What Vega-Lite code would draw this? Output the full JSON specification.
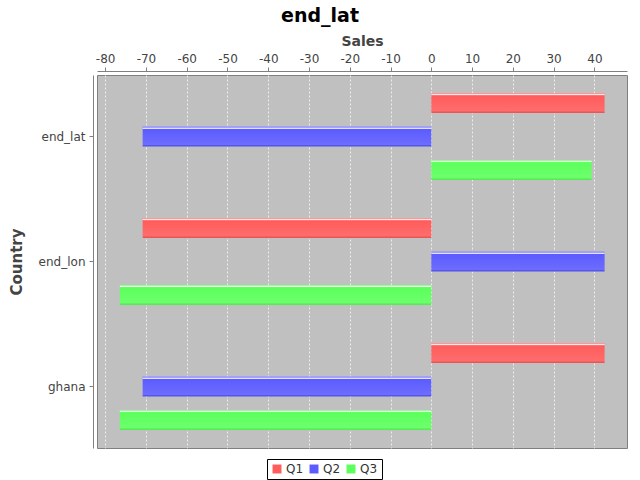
{
  "$schema": "https://vega.github.io/schema/vega-lite/v6.json",
  "autosize": {"type": "none"},
  "padding": {"left": 97, "top": 75, "right": 13, "bottom": 32},
  "width": 530,
  "height": 373,
  "title": {"text": "end_lat", "anchor": "middle", "dx": -42, "fontSize": 19, "font": "DejaVu Sans", "fontWeight": "bold", "color": "#000000", "offset": 8},
  "config": {
    "view": {"fill": "#c0c0c0", "stroke": "#808080", "strokeWidth": 1},
    "font": "DejaVu Sans"
  },
  "data": {"values": [
    {"country": "end_lat", "series": "Q1", "value": 42.5},
    {"country": "end_lat", "series": "Q2", "value": -70.8},
    {"country": "end_lat", "series": "Q3", "value": 39.3},
    {"country": "end_lon", "series": "Q1", "value": -70.8},
    {"country": "end_lon", "series": "Q2", "value": 42.5},
    {"country": "end_lon", "series": "Q3", "value": -76.4},
    {"country": "ghana", "series": "Q1", "value": 42.5},
    {"country": "ghana", "series": "Q2", "value": -70.8},
    {"country": "ghana", "series": "Q3", "value": -76.4}
  ]},
  "encoding": {
    "y": {"field": "country", "type": "nominal", "sort": null,
      "scale": {"paddingInner": 0.304, "paddingOuter": 0.144},
      "axis": {"title": "Country", "titleFontSize": 15, "titleFontWeight": "bold", "titleColor": "#444444", "titlePadding": 14,
        "labelFontSize": 12, "labelColor": "#444444", "labelPadding": 4, "tickColor": "#808080", "tickSize": 4, "domainColor": "#808080", "offset": 4, "grid": false}},
    "yOffset": {"field": "series", "type": "nominal", "scale": {"paddingInner": 0.4, "paddingOuter": 0}},
    "x": {"field": "value", "type": "quantitative",
      "scale": {"domain": [-82, 48], "nice": false, "zero": false},
      "axis": {"orient": "top", "title": "Sales", "titleFontSize": 14, "titleFontWeight": "bold", "titleColor": "#444444", "titlePadding": 4,
        "values": [-80,-70,-60,-50,-40,-30,-20,-10,0,10,20,30,40],
        "labelExpr": "replace(datum.label, '\u2212', '-')",
        "labelFontSize": 12, "labelColor": "#444444", "labelPadding": 2, "tickColor": "#808080", "tickSize": 4, "domainColor": "#808080", "offset": 4,
        "grid": true, "gridColor": "#ffffff", "gridDash": [2, 2], "gridWidth": 0.7}}
  },
  "layer": [
    {
      "mark": {"type": "bar", "stroke": null, "opacity": 1},
      "encoding": {
        "color": {"field": "series", "type": "nominal",
          "scale": {"domain": ["Q1", "Q2", "Q3"], "range": ["#ff5c5c", "#5c5cff", "#5cff5c"]},
          "legend": {"orient": "none", "legendX": 170, "legendY": 384, "direction": "horizontal", "title": null, "symbolType": "square", "symbolSize": 80,
            "labelFontSize": 12, "labelColor": "#333333", "strokeColor": "#000000", "fillColor": "#ffffff", "padding": 4, "columnPadding": 4, "labelOffset": 3, "symbolStrokeWidth": 0}}
      }
    },
    {
      "mark": {"type": "bar", "stroke": null, "opacity": 1,
        "fill": {"gradient": "linear", "x1": 0, "y1": 0, "x2": 0, "y2": 1, "stops": [
          {"offset": 0, "color": "rgba(255,255,255,0.35)"},
          {"offset": 0.05, "color": "rgba(255,255,255,0.35)"},
          {"offset": 0.06, "color": "rgba(255,255,255,0.85)"},
          {"offset": 0.1, "color": "rgba(255,255,255,0.85)"},
          {"offset": 0.13, "color": "rgba(255,255,255,0)"},
          {"offset": 0.9, "color": "rgba(255,255,255,0.1)"},
          {"offset": 0.95, "color": "rgba(0,0,0,0.08)"},
          {"offset": 1, "color": "rgba(0,0,0,0.08)"}
        ]}
      }
    }
  ]
}
